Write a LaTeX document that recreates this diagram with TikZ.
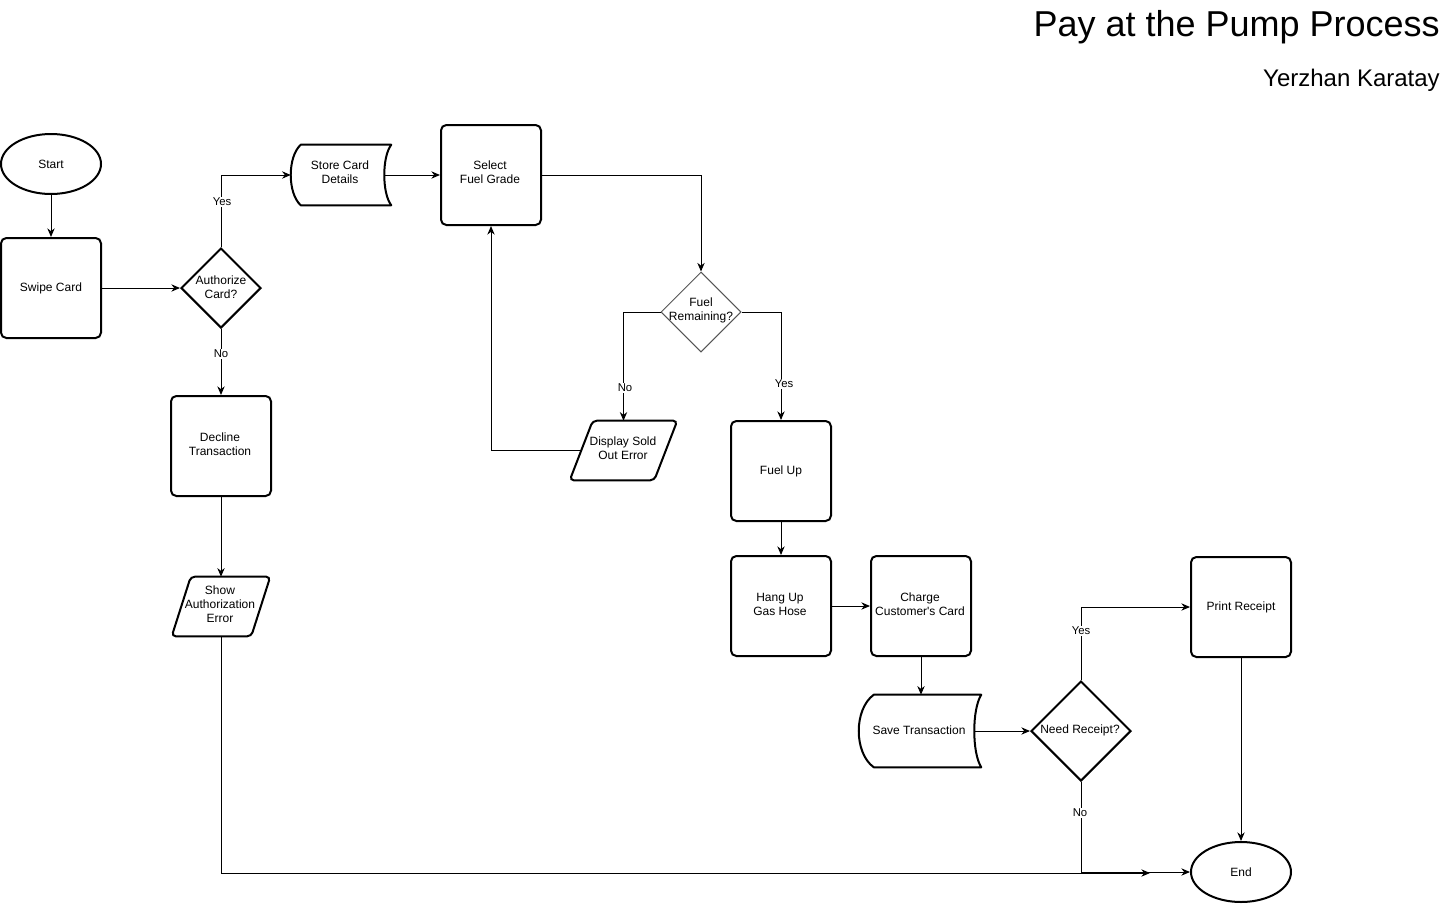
\documentclass[tikz,border=0pt]{standalone}
\usepackage{fontspec}
\setmainfont{Liberation Sans}
\newfontfamily\plainsans{Liberation Sans}[Ligatures=TeXOff]
\usetikzlibrary{shapes.geometric,arrows.meta,calc}
\newcommand\storedpath[3]{%
  \draw[line width=1.5pt, line join=round] ($(#1.north west)+(#2,0)$) -- (#1.north east)
    .. controls ($(#1.north east)!0.2!(#1.south east)+(-#3*1.333,0)$) and ($(#1.north east)!0.8!(#1.south east)+(-#3*1.333,0)$) .. (#1.south east)
    -- ($(#1.south west)+(#2,0)$)
    .. controls ($(#1.south west)!0.2!(#1.north west)+(-#2/3,0)$) and ($(#1.south west)!0.8!(#1.north west)+(-#2/3,0)$) .. ($(#1.north west)+(#2,0)$) -- cycle;}
\newcommand\parapath[2]{%
  \draw[line width=1.5pt, rounded corners=3pt] ($(#1.north west)+(#2,0)$) -- (#1.north east)
    -- ($(#1.south east)-(#2,0)$) -- (#1.south west) -- cycle;}
\begin{document}
\begin{tikzpicture}[x=0.75pt,y=-0.75pt,
  nfont/.style={font=\fontsize{9}{10.5}\selectfont},
  box/.style={draw, line width=1.5pt, rounded corners=4pt, minimum width=75pt, minimum height=75pt, align=center, nfont, inner sep=0pt},
  term/.style={draw, ellipse, line width=1.5pt, minimum width=75pt, minimum height=45pt, nfont, inner sep=0pt},
  dia/.style={draw, diamond, line width=1.5pt, inner sep=0pt},
  ghost/.style={inner sep=0pt, align=center, nfont},
  conn/.style={line width=0.75pt, -{Stealth[length=6.5pt,width=5.5pt]}},
  elabel/.style={fill=white, inner sep=1pt, font=\fontsize{8.5}{9}\selectfont}
]
\useasboundingbox (0,0) rectangle (1443,904);

% title
\node[anchor=base east, inner sep=0pt, font=\fontsize{27}{30}\selectfont] (title) at (1440,36) {Pay at the Pump Process};
\node[anchor=base east, inner sep=0pt, font=\fontsize{18}{20}\selectfont] (author) at (1440,86) {Yerzhan Karatay};

% nodes
\node[term] (start) at (51,164) {Start};
\node[box] (swipe) at (51,288) {Swipe Card};
\node[dia, minimum width=60pt, minimum height=60pt] (auth) at (221,288) {};
\node[ghost] (authT) at (221,287) {Authorize\\Card?};
\node[ghost, minimum width=75pt, minimum height=45pt] (store) at (341,175) {};
\node[ghost] (storeT) at (340,172) {Store Card\\Details};
\storedpath{store}{10}{7}
\node[box] (select) at (491,175) {};
\node[ghost] (selectT) at (490,172) {Select\\Fuel Grade};
\node[diamond, draw={rgb,255:red,85;green,85;blue,85}, line width=0.75pt, inner sep=0pt, minimum width=60pt, minimum height=60pt] (fuel) at (701,312) {};
\node[ghost] (fuelT) at (701,310) {Fuel\\Remaining?};
\node[ghost, minimum width=80.25pt, minimum height=44.25pt] (disp) at (623.5,450.5) {};
\node[ghost] (dispT) at (623,448) {Display Sold\\Out Error};
\parapath{disp}{23}
\node[box] (fuelup) at (781,471) {Fuel Up};
\node[box] (dec) at (221,446) {};
\node[ghost] (decT) at (220,444) {Decline\\Transaction};
\node[ghost, minimum width=73.5pt, minimum height=44.25pt] (show) at (221,606.5) {};
\node[ghost] (showT) at (220,604) {Show\\Authorization\\Error};
\parapath{show}{19}
\node[box] (hang) at (781,606) {};
\node[ghost] (hangT) at (780,604) {Hang Up\\Gas Hose};
\node[box] (charge) at (921,606) {};
\node[ghost, font=\plainsans\fontsize{9}{10.5}\selectfont] (chargeT) at (920,604) {Charge\\Customer's Card};
\node[ghost, minimum width=91.5pt, minimum height=54pt] (save) at (920,731) {};
\node[ghost] (saveT) at (919,730) {Save Transaction};
\storedpath{save}{15}{7}
\node[dia, minimum width=75pt, minimum height=75pt] (need) at (1081,731) {};
\node[ghost] (needT) at (1080,730) {Need Receipt?};
\node[box] (print) at (1241,607) {Print Receipt};
\node[term] (end) at (1241,872) {End};
\coordinate (join) at (1150,873);

% connectors
\draw[conn] (start.south) -- (swipe.north);
\draw[conn] (swipe.east) -- (auth.west);
\draw[conn] (auth.north) |- (store.west);
\draw[conn] (auth.south) -- (dec.north);
\draw[conn] ($(store.east)+(-7,0)$) -- (select.west);
\draw[conn] (select.east) -| (fuel.north);
\draw[conn] (fuel.west) -| (disp.north);
\draw[conn] (fuel.east) -| (fuelup.north);
\draw[conn] ($(disp.west)+(11,0)$) -| (select.south);
\draw[conn] (dec.south) -- (show.north);
\draw[conn] (show.south) |- (join);
\draw[conn] (fuelup.south) -- (hang.north);
\draw[conn] (hang.east) -- (charge.west);
\draw[conn] (charge.south) -- (charge.south |- save.north);
\draw[conn] ($(save.east)+(-7,0)$) -- (need.west);
\draw[conn] (need.north) |- (print.west);
\draw[conn] (need.south) |- (end.west);
\draw[conn] (print.south) -- (end.north);

% edge labels
\node[elabel] (l1) at (222,202) {Yes};
\node[elabel] (l2) at (221,354) {No};
\node[elabel] (l3) at (625,388) {No};
\node[elabel] (l4) at (784,384) {Yes};
\node[elabel] (l5) at (1081,631) {Yes};
\node[elabel] (l6) at (1080,813) {No};
\end{tikzpicture}
\end{document}
